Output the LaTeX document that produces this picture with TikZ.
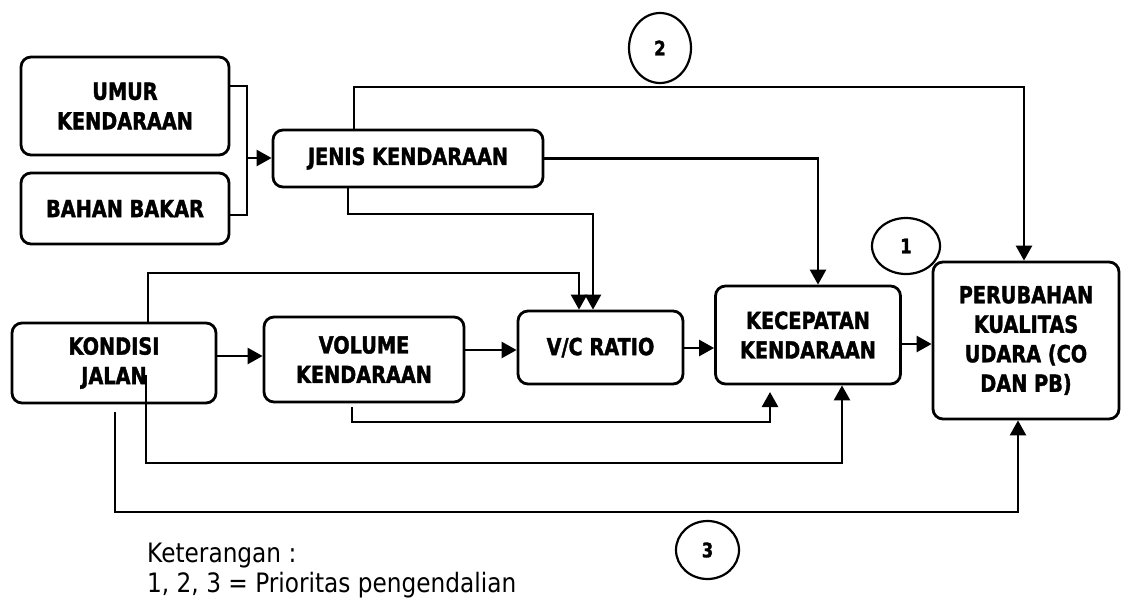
\documentclass[tikz,border=0pt]{standalone}
\usepackage{fontspec}
\usetikzlibrary{arrows.meta,shapes.geometric}
\newfontfamily\boxfont{DejaVu Sans}[FakeStretch=0.82,BoldFeatures={FakeBold=1.6}]
\newfontfamily\notefont{DejaVu Sans}[FakeStretch=0.87]
\begin{document}
\begin{tikzpicture}[x=1pt,y=-1pt,
  box/.style={draw,line width=2.8pt,rounded corners=10pt,inner sep=0pt,
    align=center,font=\boxfont\bfseries\fontsize{23.5}{29.5}\selectfont},
  line/.style={line width=2.6pt},
  arr/.style={line width=2.6pt,-{Triangle[length=15pt,width=16pt]}},
  prio/.style={draw,ellipse,line width=2.2pt,inner sep=0pt,
    font=\boxfont\bfseries\fontsize{20}{20}\selectfont},
  note/.style={anchor=base west,inner sep=0pt,
    font=\notefont\fontsize{26.7}{30}\selectfont}]
\useasboundingbox (0,0) rectangle (1122,600);

% factors
\node[box,minimum width=208pt,minimum height=98pt] (umur) at (125,106) {UMUR\\KENDARAAN};
\node[box,minimum width=208pt,minimum height=71pt] (bahan) at (125,208.5) {BAHAN BAKAR};
\node[box,minimum width=270pt,minimum height=57pt] (jenis) at (408,158.5) {JENIS KENDARAAN};
\node[box,minimum width=204pt,minimum height=80pt] (kondisi) at (114,363) {KONDISI\\JALAN};
\node[box,minimum width=200pt,minimum height=85pt] (volume) at (364,359.5) {VOLUME\\KENDARAAN};
\node[box,minimum width=165pt,minimum height=73pt] (vc) at (600.5,347.5) {V/C RATIO};
\node[box,minimum width=185pt,minimum height=98pt] (kec) at (808,335) {KECEPATAN\\KENDARAAN};
\node[box,minimum width=186pt,minimum height=157pt] (perub) at (1026,340.5) {PERUBAHAN\\KUALITAS\\UDARA (CO\\DAN PB)};

% priority marks
\node[prio,minimum width=62pt,minimum height=70pt] (p2) at (660,48) {2};
\node[prio,minimum width=68pt,minimum height=56pt] (p1) at (906,246) {1};
\node[prio,minimum width=63pt,minimum height=58pt] (p3) at (707.5,550) {3};

% vehicle age and fuel feed the vehicle type
\coordinate (br) at (247,158);
\draw[line] (umur.east |- 0,86) -| (br) |- (bahan.east |- 0,215);
\draw[arr] (br) -- (br -| jenis.west);

% vehicle type
\draw[arr] (354,0 |- jenis.north) |- (1024,87) -- (1024,0 |- perub.north);
\draw[arr] (jenis.east) -| (818,0 |- kec.north);
\draw[arr] (348,0 |- jenis.south) |- (593,214) -- (593,0 |- vc.north);

% road condition
\draw[arr] (148,0 |- kondisi.north) |- (579,273) -- (579,0 |- vc.north);
\draw[arr] (kondisi.east |- 0,356) -- (volume.west |- 0,356);
\coordinate (kin) at (146,375);
\draw[arr] (kin) |- (842,463) -- (842,0 |- kec.south);
\coordinate (kout) at (115,412);
\draw[arr] (kout) |- (1018,512) -- (1018,0 |- perub.south);

% main chain
\draw[arr] (volume.east |- 0,350) -- (vc.west |- 0,350);
\draw[arr] (vc.east |- 0,348) -- (kec.west |- 0,348);
\draw[arr] (kec.east |- 0,344) -- (perub.west |- 0,344);
\coordinate (vout) at (352,407);
\coordinate (vend) at (770,392);
\draw[arr] (vout) |- (770,422) -- (vend);

% legend
\node[note] (ket) at (147,562) {Keterangan :};
\node[note] (ket2) at (147,592) {1, 2, 3 = Prioritas pengendalian};
\end{tikzpicture}
\end{document}
